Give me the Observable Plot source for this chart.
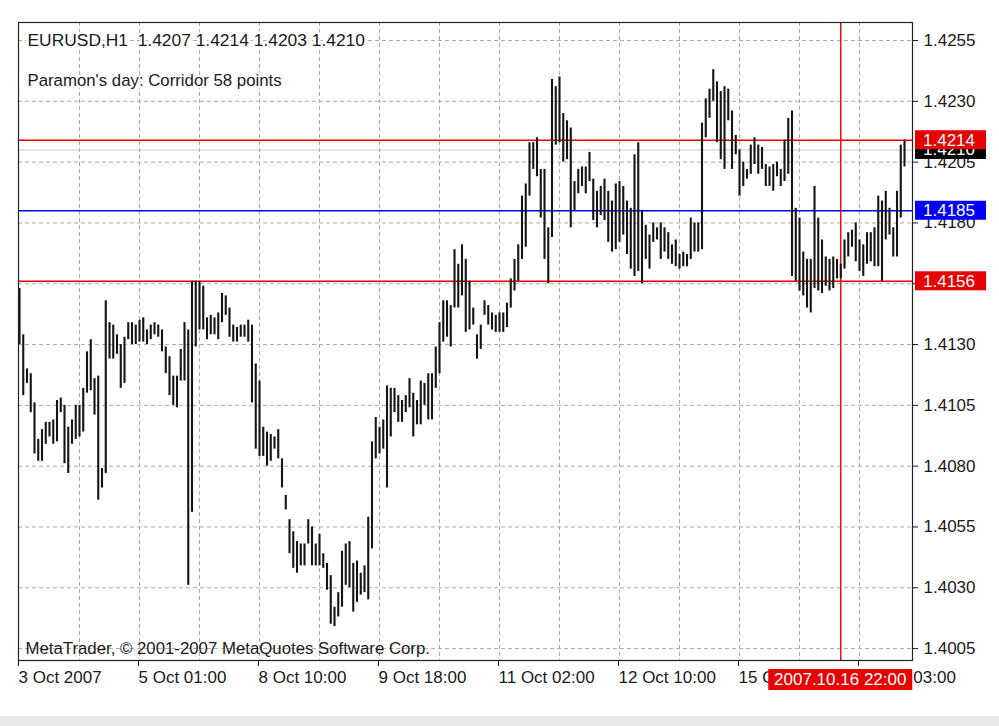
<!DOCTYPE html>
<html><head><meta charset="utf-8">
<script src="https://cdn.jsdelivr.net/npm/d3@7"></script>
<script src="https://cdn.jsdelivr.net/npm/@observablehq/plot@0.6"></script>
<style>
html,body{margin:0;padding:0;background:#e8e8e8;}
#chart svg{display:block;background:#fff;}
</style></head><body><div id="chart"></div>
<script>
// ---- data ----
const symbol = "EURUSD,H1";
const lastBar = [1.4207, 1.4214, 1.4203, 1.4210]; // O H L C
const indicatorText = "Paramon's day: Corridor 58 points";
const copyright = "MetaTrader, © 2001-2007 MetaQuotes Software Corp.";

const highs = [
1.4153,1.4134,1.4120,1.4118,1.4106,1.4091,1.4095,1.4098,1.4098,1.4099,
1.4107,1.4108,1.4105,1.4096,1.4099,1.4105,1.4105,1.4112,1.4127,1.4132,
1.4116,1.4117,1.4079,1.4148,1.4139,1.4138,1.4134,1.4130,1.4133,1.4139,
1.4139,1.4138,1.4140,1.4141,1.4136,1.4138,1.4139,1.4138,1.4136,1.4129,
1.4125,1.4117,1.4117,1.4128,1.4139,1.4136,1.4156,1.4156,1.4156,1.4154,
1.4141,1.4142,1.4141,1.4143,1.4151,1.4150,1.4145,1.4138,1.4137,1.4138,
1.4138,1.4140,1.4138,1.4122,1.4115,1.4096,1.4094,1.4093,1.4092,1.4095,
1.4083,1.4068,1.4058,1.4053,1.4049,1.4048,1.4048,1.4058,1.4055,1.4048,
1.4052,1.4044,1.4040,1.4035,1.4022,1.4028,1.4045,1.4048,1.4049,1.4040,
1.4041,1.4036,1.4039,1.4059,1.4090,1.4100,1.4096,1.4099,1.4113,1.4112,
1.4112,1.4109,1.4107,1.4109,1.4116,1.4110,1.4107,1.4115,1.4114,1.4118,
1.4118,1.4129,1.4139,1.4148,1.4148,1.4146,1.4169,1.4163,1.4171,1.4165,
1.4156,1.4145,1.4134,1.4138,1.4148,1.4146,1.4143,1.4142,1.4143,1.4143,
1.4147,1.4157,1.4165,1.4171,1.4191,1.4196,1.4213,1.4213,1.4215,1.4202,
1.4202,1.4178,1.4239,1.4236,1.4240,1.4225,1.4222,1.4219,1.4197,1.4202,
1.4203,1.4203,1.4209,1.4198,1.4193,1.4195,1.4198,1.4193,1.4189,1.4196,
1.4197,1.4195,1.4189,1.4186,1.4208,1.4213,1.4185,1.4179,1.4175,1.4180,
1.4178,1.4180,1.4178,1.4176,1.4171,1.4173,1.4167,1.4168,1.4167,1.4182,
1.4180,1.4180,1.4221,1.4231,1.4235,1.4243,1.4238,1.4234,1.4236,1.4235,
1.4226,1.4216,1.4210,1.4205,1.4202,1.4212,1.4215,1.4212,1.4211,1.4204,
1.4203,1.4204,1.4205,1.4202,1.4214,1.4223,1.4226,1.4186,1.4182,1.4168,
1.4165,1.4165,1.4195,1.4182,1.4173,1.4166,1.4165,1.4166,1.4165,1.4163,
1.4173,1.4176,1.4177,1.4180,1.4173,1.4171,1.4176,1.4176,1.4178,1.4191,
1.4189,1.4193,1.4186,1.4178,1.4193,1.4212,1.4214];

const lows = [
1.4130,1.4109,1.4114,1.4102,1.4085,1.4082,1.4082,1.4089,1.4092,1.4089,
1.4090,1.4102,1.4081,1.4077,1.4089,1.4091,1.4092,1.4094,1.4110,1.4111,
1.4101,1.4066,1.4071,1.4077,1.4124,1.4124,1.4126,1.4112,1.4114,1.4132,
1.4130,1.4130,1.4131,1.4131,1.4130,1.4132,1.4134,1.4133,1.4127,1.4118,
1.4109,1.4105,1.4104,1.4115,1.4115,1.4031,1.4061,1.4129,1.4136,1.4136,
1.4132,1.4134,1.4134,1.4132,1.4139,1.4142,1.4133,1.4131,1.4131,1.4133,
1.4133,1.4131,1.4106,1.4087,1.4084,1.4084,1.4080,1.4082,1.4087,1.4083,
1.4071,1.4062,1.4044,1.4038,1.4036,1.4039,1.4039,1.4048,1.4039,1.4039,
1.4039,1.4038,1.4029,1.4015,1.4014,1.4018,1.4022,1.4031,1.4030,1.4020,
1.4024,1.4027,1.4028,1.4025,1.4046,1.4083,1.4085,1.4087,1.4071,1.4092,
1.4102,1.4098,1.4098,1.4102,1.4104,1.4092,1.4097,1.4097,1.4105,1.4099,
1.4099,1.4112,1.4118,1.4131,1.4133,1.4129,1.4145,1.4145,1.4150,1.4135,
1.4136,1.4138,1.4124,1.4128,1.4142,1.4138,1.4136,1.4135,1.4135,1.4135,
1.4137,1.4145,1.4152,1.4156,1.4165,1.4170,1.4191,1.4202,1.4199,1.4182,
1.4165,1.4155,1.4174,1.4212,1.4213,1.4205,1.4206,1.4178,1.4185,1.4192,
1.4195,1.4192,1.4197,1.4181,1.4178,1.4183,1.4181,1.4172,1.4168,1.4169,
1.4172,1.4175,1.4167,1.4161,1.4158,1.4160,1.4155,1.4165,1.4161,1.4172,
1.4173,1.4165,1.4168,1.4165,1.4163,1.4162,1.4161,1.4162,1.4162,1.4165,
1.4168,1.4168,1.4169,1.4215,1.4223,1.4230,1.4213,1.4206,1.4202,1.4222,
1.4202,1.4208,1.4191,1.4195,1.4198,1.4200,1.4204,1.4200,1.4202,1.4195,
1.4195,1.4193,1.4199,1.4195,1.4197,1.4200,1.4158,1.4156,1.4152,1.4150,
1.4145,1.4143,1.4153,1.4152,1.4151,1.4154,1.4152,1.4153,1.4157,1.4157,
1.4161,1.4166,1.4170,1.4164,1.4160,1.4158,1.4163,1.4164,1.4162,1.4162,
1.4156,1.4173,1.4175,1.4166,1.4166,1.4182,1.4203];

const xTickIndex  = [0, 32, 64, 96, 128, 160, 192, 224];
const xTickLabels = ["3 Oct 2007", "5 Oct 01:00", "8 Oct 10:00", "9 Oct 18:00",
                     "11 Oct 02:00", "12 Oct 10:00", "15 Oct 18:00", "17 Oct 03:00"];
const gridXIndex  = [16, 32, 48, 64, 80, 96, 112, 128, 144, 160, 176, 192, 208, 224];
const yTicks = [1.4005, 1.4030, 1.4055, 1.4080, 1.4105, 1.4130, 1.4155,
                1.4180, 1.4205, 1.4230, 1.4255];
const corridorHigh = 1.4214;
const corridorMid  = 1.4185;
const corridorLow  = 1.4156;
const bidPrice = 1.4210;
const cursorIndex = 219;
const cursorLabel = "2007.10.16 22:00";

// ---- chart ----
const bars = highs.map((h, i) => ({i, high: h, low: lows[i]}));
const font = "'Liberation Sans', Arial, sans-serif";
const fmt = d3.format(".4f");
const gridColor = "#ababab";
const red = "#e60000";
const blue = "#0000f5";

const titleText = symbol + "\u00a0\u00a0" + lastBar.map(fmt).join(" ");
// the 1.4155 tick label sits completely under the 1.4156 price box, as in the reference
const yLabelFormat = d => (Math.abs(d - corridorLow) < 0.0003 ? "" : fmt(d));

const plot = Plot.plot({
  width: 999, height: 716,
  marginTop: 22, marginBottom: 56, marginLeft: 18, marginRight: 87,
  style: {fontFamily: font, fontSize: "17px", color: "#1a1a1a", background: "#fff", overflow: "visible"},
  x: {domain: [-0.267, 238.13]},
  y: {domain: [1.40001, 1.42624]},
  marks: [
    Plot.ruleY(yTicks, {stroke: gridColor, strokeDasharray: "4,3"}),
    Plot.ruleX(gridXIndex, {stroke: gridColor, strokeDasharray: "4,3"}),
    Plot.ruleY([bidPrice], {stroke: "#c4c4c4", strokeWidth: 1}),
    Plot.ruleY([corridorHigh, corridorLow], {stroke: red, strokeWidth: 1.6}),
    Plot.ruleY([corridorMid], {stroke: blue, strokeWidth: 1.6}),
    Plot.ruleX([cursorIndex], {stroke: red, strokeWidth: 1.4}),
    Plot.ruleX(bars, {x: "i", y1: "low", y2: "high", stroke: "#141414", strokeWidth: 2.1}),
    Plot.text([titleText], {frameAnchor: "top-left", dx: 9, dy: 18, lineAnchor: "middle", textAnchor: "start",
      fill: "#1a1a1a", stroke: "#fff", strokeWidth: 5, fontSize: 17.4}),
    Plot.text([indicatorText], {frameAnchor: "top-left", dx: 9, dy: 58, lineAnchor: "middle", textAnchor: "start",
      fill: "#1a1a1a", stroke: "#fff", strokeWidth: 4, fontSize: 16.8}),
    Plot.text([copyright], {frameAnchor: "bottom-left", dx: 7, dy: -12, lineAnchor: "middle", textAnchor: "start",
      fill: "#1a1a1a", fontSize: 16.8}),
    Plot.frame({stroke: "#222", strokeWidth: 1.2}),
    Plot.axisY(yTicks, {anchor: "right", tickSize: 5, tickPadding: 6, tickFormat: yLabelFormat, label: null, fontSize: 17}),
    Plot.axisX(xTickIndex, {anchor: "bottom", tickSize: 6, tickPadding: 4, textAnchor: "start", dx: -1,
      tickFormat: d => xTickLabels[xTickIndex.indexOf(d)], label: null, fontSize: 17})
  ]
});

document.getElementById("chart").appendChild(plot);

// price / time labels on the axes, positioned via the plot's own scales
const ys = plot.scale("y"), xs = plot.scale("x");
const svg = d3.select(plot);
const rightX = 999 - 87;
const priceBoxes = [
  {v: bidPrice, fill: "#000"},
  {v: corridorHigh, fill: red},
  {v: corridorMid, fill: blue},
  {v: corridorLow, fill: red}
];
const g = svg.append("g").attr("font-family", font).attr("font-size", 17);
for (const b of priceBoxes) {
  const yy = ys.apply(b.v);
  g.append("rect").attr("x", rightX + 3).attr("y", yy - 9.5).attr("width", 71).attr("height", 19).attr("fill", b.fill);
  g.append("text").attr("x", rightX + 11).attr("y", yy).attr("dy", "0.35em")
    .attr("text-anchor", "start").attr("fill", "#fff").text(fmt(b.v));
}
const cx = xs.apply(cursorIndex);
g.append("rect").attr("x", cx - 72).attr("y", 669).attr("width", 144).attr("height", 21).attr("fill", red);
g.append("text").attr("x", cx).attr("y", 679.5).attr("dy", "0.35em").attr("text-anchor", "middle")
  .attr("fill", "#fff").text(cursorLabel);
</script>
</body></html>
